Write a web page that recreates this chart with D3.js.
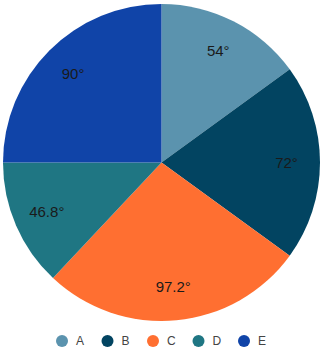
<!DOCTYPE html>
<html><head><meta charset="utf-8">
<script src="https://cdn.jsdelivr.net/npm/d3@7"></script>
<style>body{margin:0;background:#fff}svg{display:block}</style>
</head><body>
<svg id="c" width="324" height="358"></svg>
<script>
const categories = ["A", "B", "C", "D", "E"];
const values = [54, 72, 97.2, 46.8, 90];
const labels = ["54°", "72°", "97.2°", "46.8°", "90°"];
const colors = ["#5b93ae", "#024461", "#ff6f31", "#1f7683", "#1044a8"];

const svg = d3.select("#c");
const cx = 161.5, cy = 162.5, R = 158.5;
const data = categories.map((c, i) => ({cat: c, value: values[i], label: labels[i], color: colors[i]}));
const pie = d3.pie().value(d => d.value).sort(null);
const arc = d3.arc().innerRadius(0).outerRadius(R);
const labelArc = d3.arc().innerRadius(125).outerRadius(125);
const g = svg.append("g").attr("transform", `translate(${cx},${cy})`);
const arcs = pie(data);
g.selectAll("path").data(arcs).join("path")
  .attr("d", arc).attr("fill", d => d.data.color);
g.selectAll("text").data(arcs).join("text")
  .attr("transform", d => { const [x, y] = labelArc.centroid(d); return `translate(${x},${y})`; })
  .attr("text-anchor", "middle").attr("dy", "0.35em")
  .attr("font-family", "Liberation Sans, Arial, sans-serif").attr("font-size", 15)
  .attr("fill", "#1a1a1a").text(d => d.data.label);

const legend = svg.append("g");
const lx = d3.scalePoint().domain(categories).range([62, 244]);
const items = legend.selectAll("g").data(data).join("g")
  .attr("transform", d => `translate(${lx(d.cat)},341)`);
items.append("circle").attr("r", 6).attr("fill", d => d.color);
items.append("text").attr("x", 14).attr("dy", "0.35em")
  .attr("font-family", "Liberation Sans, Arial, sans-serif").attr("font-size", 12)
  .attr("fill", "#444").text(d => d.cat);
</script>
</body></html>
